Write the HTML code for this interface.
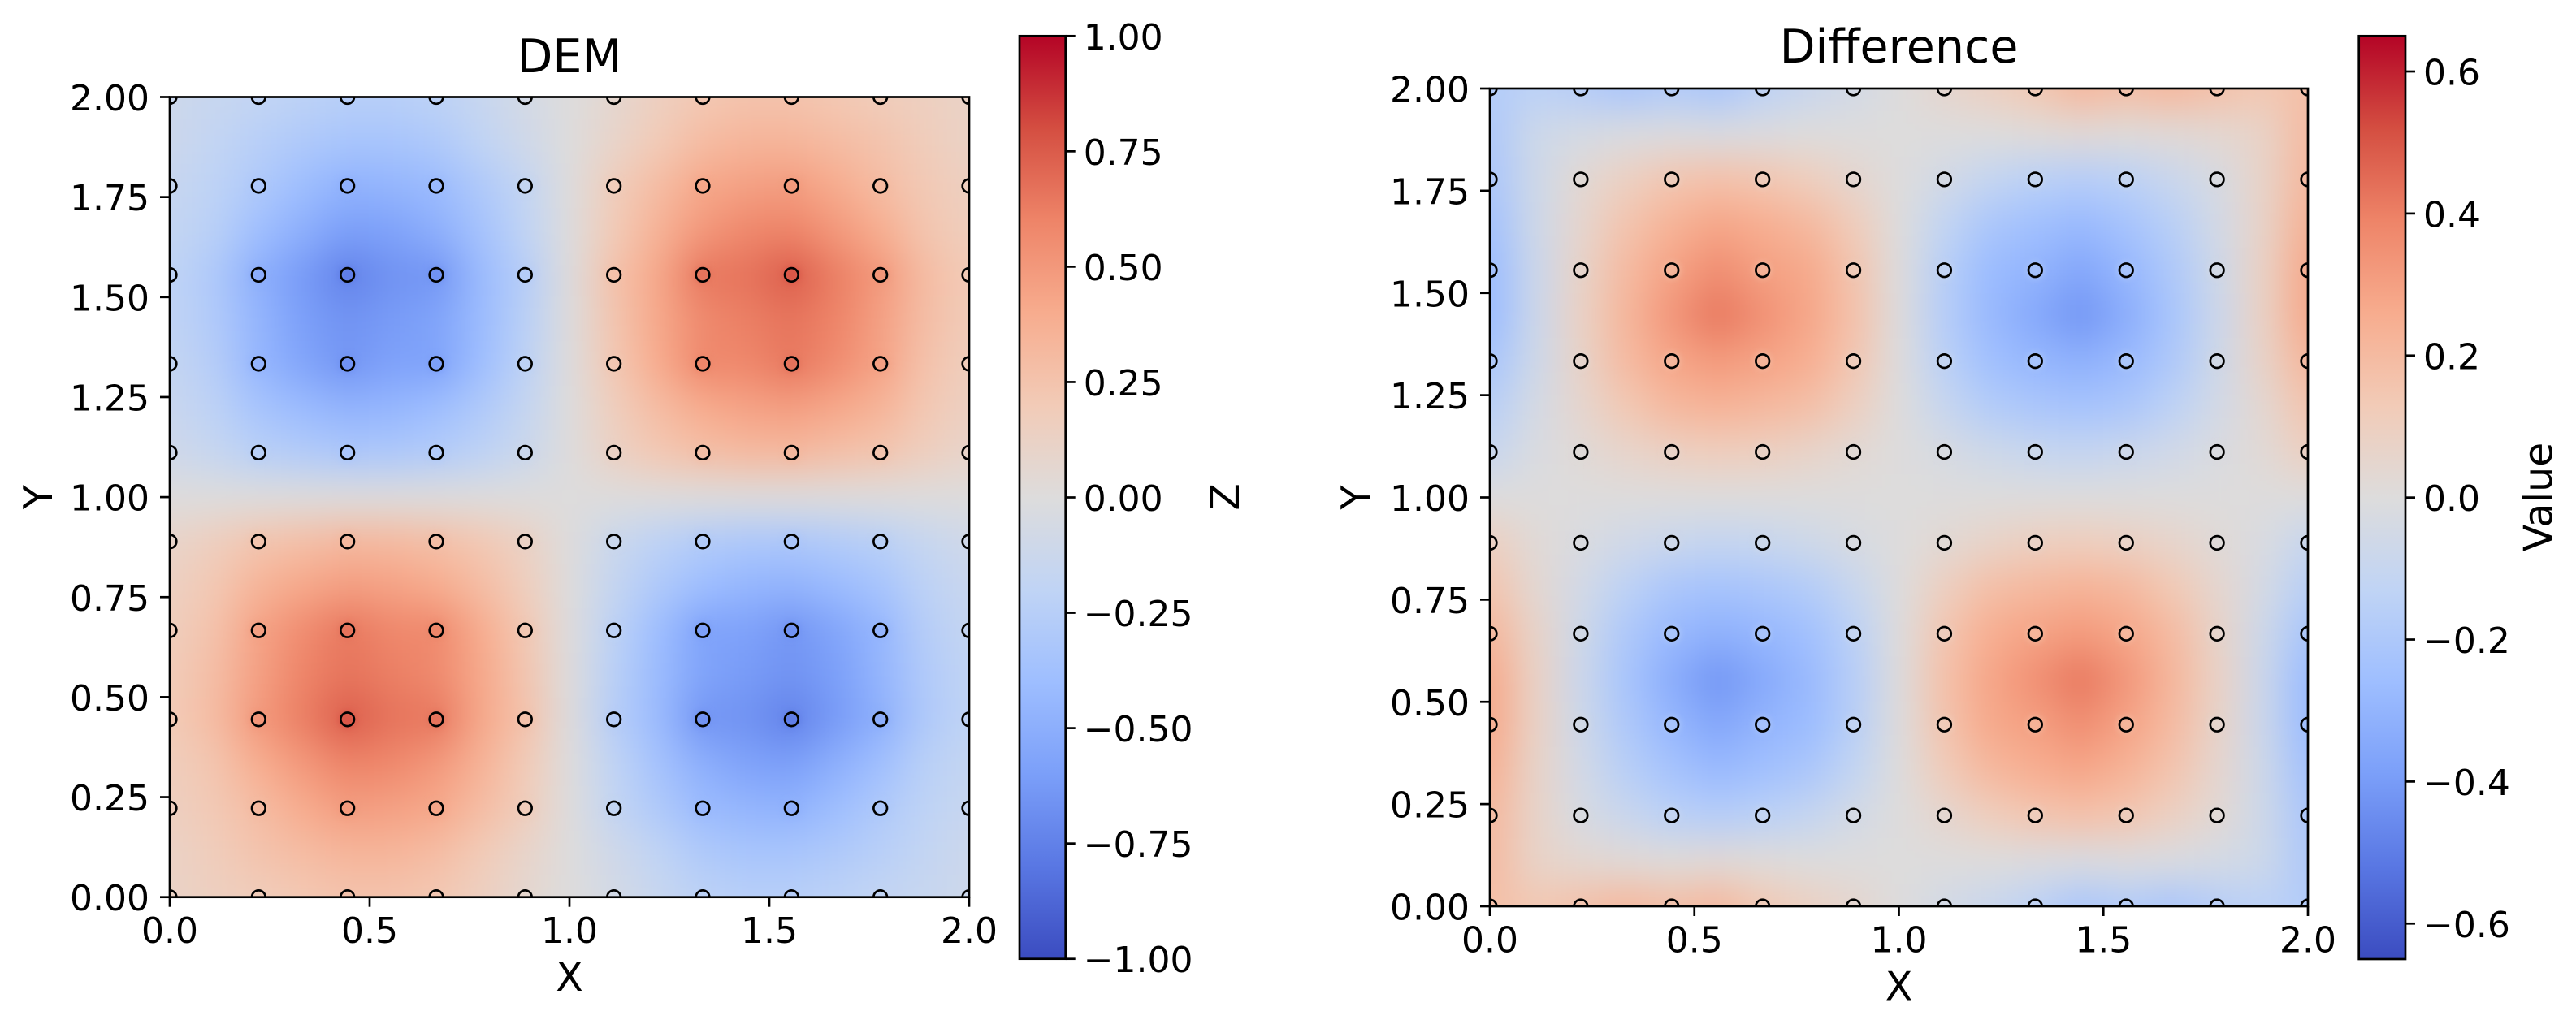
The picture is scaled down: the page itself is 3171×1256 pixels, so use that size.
<!DOCTYPE html>
<html lang="en">
<head>
<meta charset="utf-8">
<title>DEM and Difference heatmaps</title>
<style>
html,body{margin:0;padding:0;background:#fff;}
svg{display:block;}
text{font-family:"DejaVu Sans","Liberation Sans",sans-serif;fill:#000;}
</style>
</head>
<body>
<svg id="fig" xmlns="http://www.w3.org/2000/svg" width="3171" height="1256" viewBox="0 0 3171 1256">
<rect x="0" y="0" width="3171" height="1256" fill="#ffffff"/>
<defs id="defs"></defs>
</svg>
<script>
const coolwarmStops = ["#3b4cc0","#5977e3","#7b9ff9","#9ebeff","#c0d4f5","#dddcdc","#f2cbb7","#f7ac8e","#ee8468","#d44e41","#b40426"];

const xTickValues = [0, 0.5, 1, 1.5, 2];
const xTickLabels = ["0.0", "0.5", "1.0", "1.5", "2.0"];
const yTickValues = [0, 0.25, 0.5, 0.75, 1, 1.25, 1.5, 1.75, 2];
const yTickLabels = ["0.00", "0.25", "0.50", "0.75", "1.00", "1.25", "1.50", "1.75", "2.00"];
const demBarTicks = [-1, -0.75, -0.5, -0.25, 0, 0.25, 0.5, 0.75, 1];
const demBarLabels = ["\u22121.00", "\u22120.75", "\u22120.50", "\u22120.25", "0.00", "0.25", "0.50", "0.75", "1.00"];
const diffBarTicks = [-0.6, -0.4, -0.2, 0, 0.2, 0.4, 0.6];
const diffBarLabels = ["\u22120.6", "\u22120.4", "\u22120.2", "0.0", "0.2", "0.4", "0.6"];

/* field values, first row is y = 2, last row is y = 0; columns run x = 0 to 2 */
const demValues = [
[-.12,-.15,-.18,-.22,-.25,-.25,-.22,-.15,-.07,0,.07,.15,.22,.25,.25,.22,.18,.15,.12],
[-.12,-.18,-.25,-.30,-.34,-.34,-.30,-.20,-.10,0,.10,.20,.30,.34,.34,.30,.25,.18,.12],
[-.15,-.21,-.30,-.40,-.48,-.46,-.42,-.30,-.18,0,.18,.30,.42,.46,.48,.40,.30,.21,.15],
[-.17,-.24,-.39,-.50,-.60,-.58,-.50,-.36,-.20,0,.20,.36,.50,.58,.60,.50,.39,.24,.17],
[-.20,-.30,-.50,-.62,-.75,-.66,-.65,-.42,-.26,0,.26,.42,.65,.66,.75,.62,.50,.30,.20],
[-.19,-.29,-.46,-.60,-.66,-.62,-.57,-.42,-.24,0,.24,.42,.57,.62,.66,.60,.46,.29,.19],
[-.17,-.26,-.45,-.56,-.65,-.58,-.58,-.40,-.22,0,.22,.40,.58,.58,.65,.56,.45,.26,.17],
[-.14,-.22,-.35,-.42,-.47,-.45,-.40,-.30,-.17,0,.17,.30,.40,.45,.47,.42,.35,.22,.14],
[-.10,-.16,-.24,-.28,-.32,-.31,-.28,-.22,-.13,0,.13,.22,.28,.31,.32,.28,.24,.16,.10],
[0,0,0,0,0,0,0,0,0,0,0,0,0,0,0,0,0,0,0],
[.10,.16,.24,.28,.32,.31,.28,.22,.13,0,-.13,-.22,-.28,-.31,-.32,-.28,-.24,-.16,-.10],
[.14,.22,.35,.42,.47,.45,.40,.30,.17,0,-.17,-.30,-.40,-.45,-.47,-.42,-.35,-.22,-.14],
[.17,.26,.45,.56,.65,.58,.58,.40,.22,0,-.22,-.40,-.58,-.58,-.65,-.56,-.45,-.26,-.17],
[.19,.29,.46,.60,.66,.62,.57,.42,.24,0,-.24,-.42,-.57,-.62,-.66,-.60,-.46,-.29,-.19],
[.20,.30,.50,.62,.75,.66,.65,.42,.26,0,-.26,-.42,-.65,-.66,-.75,-.62,-.50,-.30,-.20],
[.17,.24,.39,.50,.60,.58,.50,.36,.20,0,-.20,-.36,-.50,-.58,-.60,-.50,-.39,-.24,-.17],
[.15,.21,.30,.40,.48,.46,.42,.30,.18,0,-.18,-.30,-.42,-.46,-.48,-.40,-.30,-.21,-.15],
[.12,.18,.25,.30,.34,.34,.30,.20,.10,0,-.10,-.20,-.30,-.34,-.34,-.30,-.25,-.18,-.12],
[.12,.15,.18,.22,.25,.25,.22,.15,.07,0,-.07,-.15,-.22,-.25,-.25,-.22,-.18,-.15,-.12]
];
const diffValues = [
[-.18,-.14,-.17,-.21,-.18,-.21,-.14,-.09,-.05,0,.05,.09,.14,.21,.18,.21,.17,.14,.18],
[-.20,-.07,-.04,-.02,-.01,-.02,-.01,0,0,0,0,0,.01,.02,.01,.02,.04,.07,.20],
[-.21,-.07,.03,.09,.15,.17,.15,.11,.05,0,-.05,-.11,-.15,-.17,-.15,-.09,-.03,.07,.21],
[-.24,-.07,.05,.16,.23,.28,.25,.21,.12,0,-.12,-.21,-.25,-.28,-.23,-.16,-.05,.07,.24],
[-.27,-.08,.07,.20,.29,.36,.30,.27,.16,0,-.16,-.27,-.30,-.36,-.29,-.20,-.07,.08,.27],
[-.27,-.08,.08,.22,.33,.42,.35,.28,.17,0,-.17,-.28,-.35,-.42,-.33,-.22,-.08,.08,.27],
[-.22,-.07,.07,.20,.28,.32,.29,.25,.15,0,-.15,-.25,-.29,-.32,-.28,-.20,-.07,.07,.22],
[-.16,-.04,.05,.14,.21,.23,.21,.18,.10,0,-.10,-.18,-.21,-.23,-.21,-.14,-.05,.04,.16],
[-.10,-.02,.02,.06,.09,.11,.10,.07,.03,0,-.03,-.07,-.10,-.11,-.09,-.06,-.02,.02,.10],
[0,0,0,0,0,0,0,0,0,0,0,0,0,0,0,0,0,0,0],
[.10,.02,-.02,-.06,-.09,-.11,-.10,-.07,-.03,0,.03,.07,.10,.11,.09,.06,.02,-.02,-.10],
[.16,.04,-.05,-.14,-.21,-.23,-.21,-.18,-.10,0,.10,.18,.21,.23,.21,.14,.05,-.04,-.16],
[.22,.07,-.07,-.20,-.28,-.32,-.29,-.25,-.15,0,.15,.25,.29,.32,.28,.20,.07,-.07,-.22],
[.27,.08,-.08,-.22,-.33,-.42,-.35,-.28,-.17,0,.17,.28,.35,.42,.33,.22,.08,-.08,-.27],
[.27,.08,-.07,-.20,-.29,-.36,-.30,-.27,-.16,0,.16,.27,.30,.36,.29,.20,.07,-.08,-.27],
[.24,.07,-.05,-.16,-.23,-.28,-.25,-.21,-.12,0,.12,.21,.25,.28,.23,.16,.05,-.07,-.24],
[.21,.07,-.03,-.09,-.15,-.17,-.15,-.11,-.05,0,.05,.11,.15,.17,.15,.09,.03,-.07,-.21],
[.20,.07,.04,.02,.01,.02,.01,0,0,0,0,0,-.01,-.02,-.01,-.02,-.04,-.07,-.20],
[.18,.14,.17,.21,.18,.21,.14,.09,.05,0,-.05,-.09,-.14,-.21,-.18,-.21,-.17,-.14,-.18]
];
/* sample locations, both axes */
const sampleX = [0, 0.2222, 0.4444, 0.6667, 0.8889, 1.1111, 1.3333, 1.5556, 1.7778, 2];
const sampleY = [0, 0.2222, 0.4444, 0.6667, 0.8889, 1.1111, 1.3333, 1.5556, 1.7778, 2];

const NS = "http://www.w3.org/2000/svg";
const fig = document.getElementById("fig");
const defs = document.getElementById("defs");

function mk(tag, attrs, parent) {
  const el = document.createElementNS(NS, tag);
  for (const k in attrs) el.setAttribute(k, attrs[k]);
  if (parent) parent.appendChild(el);
  return el;
}
function hexToRgb(h) {
  return [parseInt(h.slice(1, 3), 16), parseInt(h.slice(3, 5), 16), parseInt(h.slice(5, 7), 16)];
}
function coolwarm(f) {
  const t = Math.max(0, Math.min(1, f)) * (coolwarmStops.length - 1);
  const i = Math.min(coolwarmStops.length - 2, Math.floor(t));
  const a = hexToRgb(coolwarmStops[i]);
  const b = hexToRgb(coolwarmStops[i + 1]);
  const u = t - i;
  const c = a.map((v, n) => Math.round(v + (b[n] - v) * u));
  return "rgb(" + c[0] + "," + c[1] + "," + c[2] + ")";
}

function drawPanel(p) {
  const x = v => p.left + (v / 2) * (p.right - p.left);
  const y = v => p.bottom - (v / 2) * (p.bottom - p.top);
  const color = v => coolwarm((v + p.vmax) / (2 * p.vmax));

  const axes = mk("g", {}, fig);
  
  

  const clip = mk("clipPath", { id: p.id + "-clip" }, defs);
  mk("rect", { x: p.left, y: p.top, width: p.right - p.left, height: p.bottom - p.top }, clip);
  const blur = mk("filter", { id: p.id + "-blur", filterUnits: "userSpaceOnUse", x: p.left - 200, y: p.top - 200, width: p.right - p.left + 400, height: p.bottom - p.top + 400, "color-interpolation-filters": "sRGB" }, defs);
  mk("feGaussianBlur", { stdDeviation: 23 }, blur);
  const soft = mk("filter", { id: p.id + "-soft", filterUnits: "userSpaceOnUse", x: p.left - 50, y: p.top - 50, width: p.right - p.left + 100, height: p.bottom - p.top + 100, "color-interpolation-filters": "sRGB" }, defs);
  mk("feGaussianBlur", { stdDeviation: 4 }, soft);

  const clipped = mk("g", { "clip-path": "url(#" + p.id + "-clip)" }, axes);

  /* heatmap */
  const heat = mk("g", { filter: "url(#" + p.id + "-blur)" }, clipped);
  
  
  const rows = p.values.length;
  const cols = p.values[0].length;
  const dx = 2 / (cols - 1);
  const dy = 2 / (rows - 1);
  p.values.forEach((row, r) => {
    row.forEach((val, c) => {
      let x0 = x(c * dx - dx / 2);
      let x1 = x(c * dx + dx / 2);
      let y0 = y(2 - r * dy + dy / 2);
      let y1 = y(2 - r * dy - dy / 2);
      if (c === 0) x0 -= 160;
      if (c === cols - 1) x1 += 160;
      if (r === 0) y0 -= 160;
      if (r === rows - 1) y1 += 160;
      const cell = mk("rect", { x: x0, y: y0, width: x1 - x0 + 0.5, height: y1 - y0 + 0.5, fill: color(val) }, heat);
      
      
    });
  });

  /* local response right at the sample sites */
  const halos = mk("g", { filter: "url(#" + p.id + "-soft)" }, clipped);
  
  
  sampleY.forEach((sy, j) => {
    sampleX.forEach((sx, i) => {
      if (i === 0 || j === 0 || i === sampleX.length - 1 || j === sampleY.length - 1) return;
      const v = p.values[rows - 1 - j * 2][i * 2];
      const halo = mk("circle", { cx: x(sx), cy: y(sy), r: 11, fill: color(v * p.haloGain), opacity: 0.8 }, halos);
      
      
    });
  });

  /* sample markers */
  const markers = mk("g", {}, clipped);
  
  
  sampleY.forEach(sy => {
    sampleX.forEach(sx => {
      const m = mk("circle", { cx: x(sx), cy: y(sy), r: 8.3, fill: "none", stroke: "#000", "stroke-width": 2.7 }, markers);
      
      
    });
  });

  /* frame */
  const frame = mk("rect", { x: p.left, y: p.top, width: p.right - p.left, height: p.bottom - p.top, fill: "none", stroke: "#000", "stroke-width": 2.7 }, axes);
  
  

  /* x axis */
  xTickValues.forEach((v, i) => {
    const t = mk("line", { x1: x(v), x2: x(v), y1: p.bottom, y2: p.bottom + 12, stroke: "#000", "stroke-width": 2.7 }, axes);
    
    
    const l = mk("text", { x: x(v), y: p.bottom + 56.5, "text-anchor": "middle", "font-size": 44 }, axes);
    l.textContent = xTickLabels[i];
    
    
  });
  /* y axis */
  yTickValues.forEach((v, i) => {
    const t = mk("line", { x1: p.left - 12, x2: p.left, y1: y(v), y2: y(v), stroke: "#000", "stroke-width": 2.7 }, axes);
    
    
    const l = mk("text", { x: p.left - 25, y: y(v) + 16.5, "text-anchor": "end", "font-size": 44 }, axes);
    l.textContent = yTickLabels[i];
    
    
  });

  /* titles */
  const cx = (p.left + p.right) / 2;
  const title = mk("text", { x: cx, y: p.titleY, "text-anchor": "middle", "font-size": 57 }, axes);
  title.textContent = p.title;
  
  
  const xl = mk("text", { x: cx, y: p.bottom + 115.5, "text-anchor": "middle", "font-size": 49 }, axes);
  xl.textContent = "X";
  
  
  const yl = mk("text", { transform: "translate(" + p.yLabelX + "," + (p.top + p.bottom) / 2 + ") rotate(-90)", "text-anchor": "middle", "font-size": 49 }, axes);
  yl.textContent = "Y";
  
  

  /* colorbar */
  const bar = mk("g", {}, fig);
  
  
  const grad = mk("linearGradient", { id: p.id + "-grad", x1: 0, y1: 1, x2: 0, y2: 0 }, defs);
  coolwarmStops.forEach((c, i) => {
    mk("stop", { offset: i / (coolwarmStops.length - 1), "stop-color": c }, grad);
  });
  const by = v => p.barBottom - ((v + p.vmax) / (2 * p.vmax)) * (p.barBottom - p.barTop);
  const ramp = mk("rect", { x: p.barLeft, y: p.barTop, width: p.barRight - p.barLeft, height: p.barBottom - p.barTop, fill: "url(#" + p.id + "-grad)", stroke: "#000", "stroke-width": 2.7 }, bar);
  
  
  p.barTicks.forEach((v, i) => {
    const t = mk("line", { x1: p.barRight, x2: p.barRight + 12, y1: by(v), y2: by(v), stroke: "#000", "stroke-width": 2.7 }, bar);
    
    
    const l = mk("text", { x: p.barRight + 22, y: by(v) + 16.5, "font-size": 44 }, bar);
    l.textContent = p.barLabels[i];
    
    
  });
  const bl = mk("text", { transform: "translate(" + p.barLabelX + "," + p.barLabelY + ") rotate(-90)", "text-anchor": "middle", "font-size": 49 }, bar);
  bl.textContent = p.barLabel;
  
  
}

drawPanel({
  id: "dem", title: "DEM", values: demValues, vmax: 1, haloGain: 1.04,
  left: 209, right: 1193, top: 119.5, bottom: 1104.7, titleY: 89, yLabelX: 64,
  barLeft: 1255, barRight: 1311.7, barTop: 44.3, barBottom: 1180.7,
  barTicks: demBarTicks, barLabels: demBarLabels, barLabel: "Z", barLabelX: 1525, barLabelY: 612
});
drawPanel({
  id: "difference", title: "Difference", values: diffValues, vmax: 0.65, haloGain: 0.7,
  left: 1834, right: 2841, top: 109, bottom: 1116, titleY: 77, yLabelX: 1686,
  barLeft: 2903.7, barRight: 2961, barTop: 44.3, barBottom: 1181,
  barTicks: diffBarTicks, barLabels: diffBarLabels, barLabel: "Value", barLabelX: 3141.7, barLabelY: 612
});
</script>
</body>
</html>
